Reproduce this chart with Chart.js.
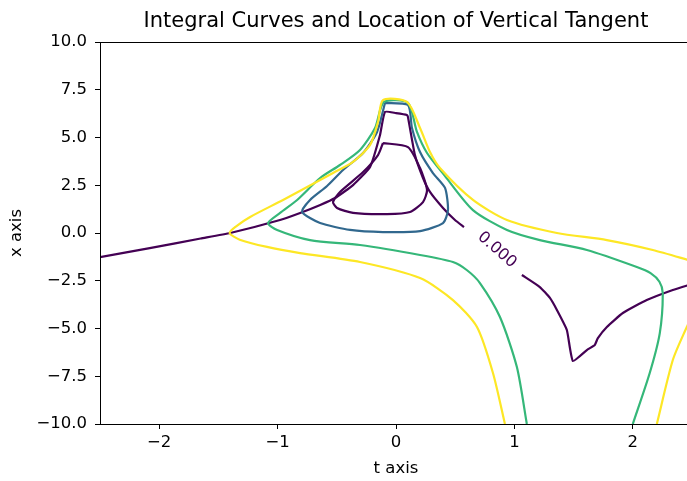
<!DOCTYPE html>
<html>
<head>
<meta charset="utf-8">
<title>Integral Curves and Location of Vertical Tangent</title>
<script src="https://cdn.jsdelivr.net/npm/chart.js@4/dist/chart.umd.min.js"></script>
<style>
  html, body { margin: 0; padding: 0; background: #fff; overflow: hidden; }
  #wrap { width: 694px; height: 481px; }
</style>
</head>
<body>
<div id="wrap"><canvas id="chart" width="694" height="481"></canvas></div>
<script>
// --- data (t = horizontal, x = vertical) ---

const tTicks = [-2, -1, 0, 1, 2];
const xTicks = [10, 7.5, 5, 2.5, 0, -2.5, -5, -7.5, -10];

// level 0 (purple): long curve from the left, over the peak, down to the label
const purpleMainT = [-2.5, -2.08, -1.65, -1.40, -0.98, -0.81, -0.64, -0.515, -0.363, -0.219, -0.135, -0.093, 0, 0.093, 0.101, 0.16, 0.228, 0.287, 0.397, 0.498, 0.574];
const purpleMainX = [-1.26, -0.79, -0.29, 0.0, 0.68, 1.05, 1.47, 1.83, 2.51, 3.46, 5.13, 6.34, 6.28, 6.18, 6.07, 4.08, 2.88, 2.15, 1.31, 0.68, 0.31];

// level 0 after the inline label, with the cusp
const purpleRightT = [1.063, 1.215, 1.30, 1.359, 1.443, 1.494, 1.612, 1.679, 1.705, 1.781, 1.916, 2.118, 2.338, 2.5];
const purpleRightX = [-2.20, -2.83, -3.40, -4.03, -5.08, -6.70, -6.13, -5.86, -5.50, -4.92, -4.19, -3.51, -2.98, -2.67];

// level 0 closed loop inside the peak
const purpleLoopT = [-0.110, 0.101, 0.203, 0.262, 0.228, 0.118, -0.076, -0.363, -0.498, -0.532, -0.473, -0.278, -0.152, -0.110];
const purpleLoopX = [4.71, 4.50, 3.40, 2.25, 1.62, 1.10, 0.99, 1.05, 1.31, 1.62, 2.15, 3.19, 4.08, 4.71];

// blue level: closed loop
const blueLoopT = [-0.093, 0.101, 0.135, 0.203, 0.312, 0.414, 0.439, 0.397, 0.203, -0.110, -0.388, -0.641, -0.793, -0.726, -0.582, -0.447, -0.278, -0.160, -0.093];
const blueLoopX = [6.81, 6.70, 5.50, 4.24, 3.14, 2.36, 1.20, 0.52, 0.10, 0.05, 0.16, 0.52, 1.10, 1.73, 2.46, 3.30, 4.19, 5.29, 6.81];

// green level
const greenT = [1.105, 1.021, 0.878, 0.709, 0.600, 0.481, 0.203, -0.304, -0.726, -1.004, -1.080, -0.979, -0.835, -0.641, -0.473, -0.304, -0.177, -0.101, 0.101, 0.177, 0.262, 0.414, 0.650, 0.937, 1.215, 1.612, 2.034, 2.150, 2.225, 2.253, 2.228, 2.143, 2.0];
const greenX = [-10, -7.02, -4.40, -2.62, -1.95, -1.52, -1.15, -0.63, -0.37, 0.16, 0.52, 1.05, 1.73, 2.88, 3.56, 4.35, 5.50, 6.86, 6.81, 5.29, 4.19, 2.98, 1.20, 0.16, -0.37, -0.89, -1.78, -2.10, -2.55, -3.14, -5.24, -7.33, -10];

// yellow level
const yellowT = [0.920, 0.819, 0.684, 0.481, 0.203, -0.304, -0.810, -1.089, -1.320, -1.405, -1.350, -1.232, -0.954, -0.641, -0.532, -0.363, -0.219, -0.152, -0.110, 0.093, 0.203, 0.287, 0.371, 0.650, 0.937, 1.359, 1.781, 2.169, 2.5];
const yellowX = [-10, -7.33, -4.92, -3.51, -2.36, -1.52, -1.05, -0.73, -0.35, 0.0, 0.35, 0.84, 1.73, 2.77, 3.14, 3.72, 4.61, 5.81, 6.96, 6.86, 5.50, 4.24, 3.40, 1.73, 0.68, 0.0, -0.37, -0.89, -1.47];
const yellowRightT = [2.203, 2.338, 2.456, 2.5];
const yellowRightX = [-10, -6.65, -4.92, -4.35];

const zeroLabel = '0.000';
const zeroLabelAt = { t: 0.852, x: -0.89 };

const colors = { purple: '#440154', blue: '#31688e', green: '#35b779', yellow: '#fde725' };

function pts(ts, xs) {
  return ts.map((t, i) => ({ x: t, y: xs[i] }));
}

function line(ts, xs, color, order, tension) {
  return {
    data: pts(ts, xs),
    showLine: true,
    borderColor: color,
    backgroundColor: color,
    borderWidth: 2.2,
    pointRadius: 0,
    tension: tension,
    fill: false,
    order: order
  };
}

const minus = v => String(v).replace('-', '\u2212');

// inline contour label + full frame
const decorPlugin = {
  id: 'decor',
  afterDatasetsDraw(chart) {
    const { ctx, chartArea: a, scales } = chart;
    const px = scales.x.getPixelForValue(zeroLabelAt.t);
    const py = scales.y.getPixelForValue(zeroLabelAt.x);
    ctx.save();
    ctx.translate(px, py);
    ctx.rotate(0.72);
    ctx.font = '16px "DejaVu Sans"';
    ctx.fillStyle = colors.purple;
    ctx.textAlign = 'center';
    ctx.textBaseline = 'middle';
    ctx.fillText(zeroLabel, 0, 0);
    ctx.restore();

    ctx.save();
    ctx.strokeStyle = '#000';
    ctx.lineWidth = 1;
    ctx.strokeRect(Math.round(a.left) + 0.5, Math.round(a.top) + 0.5, Math.round(a.right - a.left), Math.round(a.bottom - a.top));
    ctx.restore();
  }
};

Chart.defaults.font.family = '"DejaVu Sans", sans-serif';
Chart.defaults.color = '#000';

new Chart(document.getElementById('chart'), {
  type: 'scatter',
  data: {
    datasets: [
      line(purpleMainT, purpleMainX, colors.purple, 3, 0.15),
      line(purpleRightT, purpleRightX, colors.purple, 3, 0.15),
      line(purpleLoopT, purpleLoopX, colors.purple, 3, 0.22),
      line(blueLoopT, blueLoopX, colors.blue, 2, 0.22),
      line(greenT, greenX, colors.green, 1, 0.25),
      line(yellowT, yellowX, colors.yellow, 0, 0.25),
      line(yellowRightT, yellowRightX, colors.yellow, 0, 0.25)
    ]
  },
  options: {
    responsive: false,
    animation: false,
    devicePixelRatio: 1,
    layout: { padding: { left: 0, right: 2, top: 0, bottom: 0 } },
    plugins: {
      legend: { display: false },
      tooltip: { enabled: false },
      title: {
        display: true,
        fullSize: false,
        text: 'Integral Curves and Location of Vertical Tangent',
        font: { size: 21, weight: 'normal' },
        color: '#000',
        padding: { top: 9.3, bottom: 7.5 }
      }
    },
    scales: {
      x: {
        type: 'linear',
        min: -2.5, max: 2.5,
        afterBuildTicks: s => { s.ticks = tTicks.map(v => ({ value: v })); },
        afterFit: s => { s.height = 57; },
        ticks: { font: { size: 16.5 }, padding: 4, callback: v => minus(v) },
        grid: { drawOnChartArea: false, drawTicks: true, tickLength: 5, color: '#000' },
        border: { display: false },
        title: { display: true, text: 't axis', font: { size: 16.5 }, padding: { top: 0, bottom: 2 } }
      },
      y: {
        type: 'linear',
        min: -10, max: 10,
        afterBuildTicks: s => { s.ticks = xTicks.map(v => ({ value: v })); },
        afterFit: s => { s.width = 100; },
        ticks: { font: { size: 16.5 }, padding: 8, callback: v => minus(v.toFixed(1)) },
        grid: { drawOnChartArea: false, drawTicks: true, tickLength: 5, color: '#000' },
        border: { display: false },
        title: { display: true, text: 'x axis', font: { size: 16.5 }, padding: { top: 7, bottom: 0 } }
      }
    }
  },
  plugins: [decorPlugin]
});
</script>
</body>
</html>
